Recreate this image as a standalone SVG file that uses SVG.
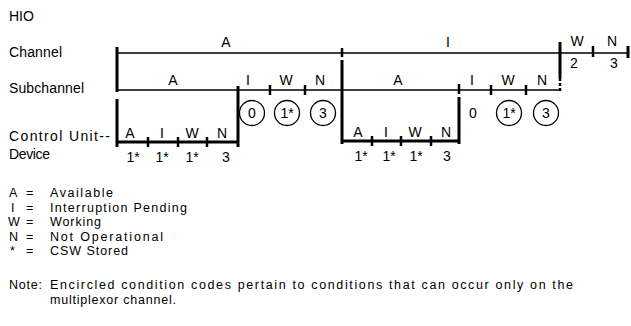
<svg xmlns="http://www.w3.org/2000/svg" width="631" height="326" viewBox="0 0 631 326">
<style>
text{font-family:"Liberation Sans",Arial,sans-serif;font-size:14px;fill:#000}
.c{text-anchor:middle}
.lg{font-size:12.5px}
.thin{stroke:#000;stroke-width:1.3;fill:none}
.thick{stroke:#000;stroke-width:3;fill:none}
.tk{stroke:#000;stroke-width:2.5;fill:none}
.circ{stroke:#000;stroke-width:1.3;fill:none}
</style>
<rect width="631" height="326" fill="#fff"/>
<g id="row-labels">
<text x="9" y="21">HIO</text>
<text x="9" y="57" textLength="53" lengthAdjust="spacing">Channel</text>
<text x="9" y="93" textLength="75" lengthAdjust="spacing">Subchannel</text>
<text x="9" y="141" textLength="101" lengthAdjust="spacing">Control Unit--</text>
<text x="9" y="159" textLength="41" lengthAdjust="spacing">Device</text>
</g>
<g id="connectors">
<line class="thin" x1="117" y1="53" x2="628" y2="53"/>
<line class="thick" x1="117" y1="47" x2="117" y2="92"/>
<line class="tk" x1="342" y1="48" x2="342" y2="57"/>
<line class="thick" x1="560" y1="42" x2="560" y2="78"/>
<line class="tk" x1="560" y1="78" x2="560" y2="92" stroke-dasharray="3,2"/>
<line class="tk" x1="593" y1="46" x2="593" y2="57"/>
<line class="thick" x1="628" y1="46" x2="628" y2="58"/>
<line class="thin" x1="117" y1="90" x2="560" y2="90"/>
<line class="thick" x1="238" y1="86" x2="238" y2="147"/>
<line class="tk" x1="270" y1="85" x2="270" y2="95"/>
<line class="tk" x1="305" y1="85" x2="305" y2="95"/>
<line class="thick" x1="342" y1="60" x2="342" y2="144"/>
<line class="tk" x1="459" y1="84" x2="459" y2="94"/>
<line class="thick" x1="459" y1="97" x2="459" y2="144"/>
<line class="tk" x1="491" y1="85" x2="491" y2="95"/>
<line class="tk" x1="526" y1="85" x2="526" y2="95"/>
<line class="thick" x1="117" y1="99" x2="117" y2="147"/>
<line class="thick" x1="117" y1="142" x2="238" y2="142"/>
<line class="tk" x1="148" y1="137" x2="148" y2="147"/>
<line class="tk" x1="178" y1="137" x2="178" y2="147"/>
<line class="tk" x1="207" y1="137" x2="207" y2="147"/>
<line class="thick" x1="342" y1="141" x2="459" y2="141"/>
<line class="tk" x1="372" y1="136" x2="372" y2="146"/>
<line class="tk" x1="401" y1="136" x2="401" y2="146"/>
<line class="tk" x1="431" y1="136" x2="431" y2="146"/>
</g>
<g id="channel-labels">
<text class="c" x="226" y="47">A</text>
<text class="c" x="448" y="47">I</text>
<text class="c" x="577" y="46">W</text>
<text class="c" x="612" y="46">N</text>
<text class="c" x="574" y="68">2</text>
<text class="c" x="614" y="68">3</text>
</g>
<g id="subchannel-labels">
<text class="c" x="173" y="85">A</text>
<text class="c" x="248" y="85">I</text>
<text class="c" x="286" y="85">W</text>
<text class="c" x="320" y="85">N</text>
<text class="c" x="398" y="85">A</text>
<text class="c" x="472" y="85">I</text>
<text class="c" x="508" y="85">W</text>
<text class="c" x="542" y="85">N</text>
</g>
<g id="condition-codes">
<circle class="circ" cx="252" cy="113" r="12.5"/>
<text class="c" x="252" y="118">0</text>
<circle class="circ" cx="287" cy="113" r="12.5"/>
<text class="c" x="287" y="118">1*</text>
<circle class="circ" cx="323" cy="113" r="12.5"/>
<text class="c" x="323" y="118">3</text>
<text class="c" x="473" y="118">0</text>
<circle class="circ" cx="509" cy="113" r="12.5"/>
<text class="c" x="509" y="118">1*</text>
<circle class="circ" cx="546" cy="113" r="12.5"/>
<text class="c" x="546" y="118">3</text>
</g>
<g id="control-unit-labels">
<text class="c" x="130" y="138">A</text>
<text class="c" x="162" y="138">I</text>
<text class="c" x="192" y="138">W</text>
<text class="c" x="222" y="138">N</text>
<text class="c" x="133" y="162">1*</text>
<text class="c" x="162" y="162">1*</text>
<text class="c" x="192" y="162">1*</text>
<text class="c" x="226" y="162">3</text>
<text class="c" x="358" y="137">A</text>
<text class="c" x="386" y="137">I</text>
<text class="c" x="415" y="137">W</text>
<text class="c" x="446" y="137">N</text>
<text class="c" x="361" y="161">1*</text>
<text class="c" x="389" y="161">1*</text>
<text class="c" x="416" y="161">1*</text>
<text class="c" x="447" y="161">3</text>
</g>
<g id="legend" class="lg">
<text class="lg" x="9" y="197">A</text><text class="lg" x="26" y="197">=</text><text class="lg" x="50" y="197" textLength="63" lengthAdjust="spacing">Available</text>
<text class="lg" x="11" y="211.5">I</text><text class="lg" x="26" y="211.5">=</text><text class="lg" x="50" y="211.5" textLength="137" lengthAdjust="spacing">Interruption Pending</text>
<text class="lg" x="8" y="226">W</text><text class="lg" x="26" y="226">=</text><text class="lg" x="50" y="226" textLength="51" lengthAdjust="spacing">Working</text>
<text class="lg" x="9" y="240.5">N</text><text class="lg" x="26" y="240.5">=</text><text class="lg" x="50" y="240.5" textLength="113" lengthAdjust="spacing">Not Operational</text>
<text class="lg" x="10" y="255">*</text><text class="lg" x="26" y="255">=</text><text class="lg" x="50" y="255" textLength="78" lengthAdjust="spacing">CSW Stored</text>
</g>
<g id="note">
<text class="lg" x="9" y="289" textLength="33" lengthAdjust="spacing">Note:</text>
<text class="lg" x="50" y="289" textLength="523" lengthAdjust="spacing">Encircled condition codes pertain to conditions that can occur only on the</text>
<text class="lg" x="50" y="303.5" textLength="126" lengthAdjust="spacing">multiplexor channel.</text>
</g>
</svg>
